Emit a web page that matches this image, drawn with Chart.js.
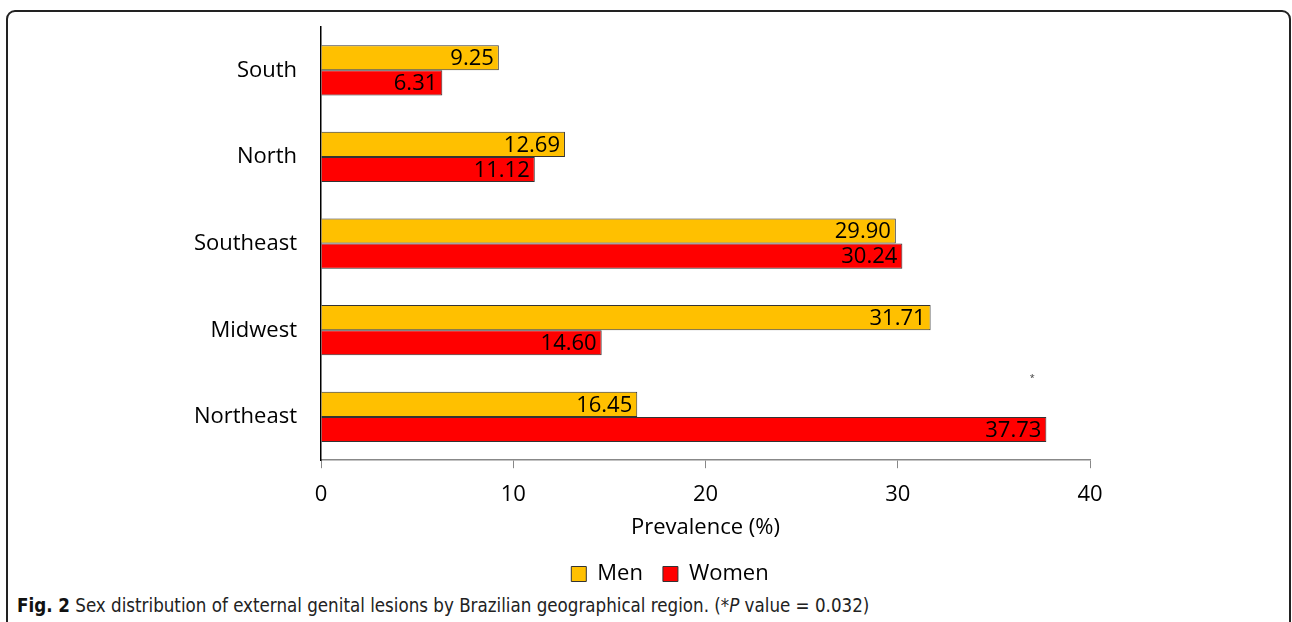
<!DOCTYPE html>
<html>
<head>
<meta charset="utf-8">
<script src="https://cdn.jsdelivr.net/npm/chart.js@4"></script>
<style>
  body { margin: 0; background: #fff; width: 1292px; height: 622px; overflow: hidden; position: relative; }
  #frame { position: absolute; left: 6px; top: 10px; width: 1281px; height: 640px; border: 2px solid #222; border-radius: 9px; }
  #wrap { position: absolute; left: 0; top: 0; width: 1292px; height: 595px; }
  #caption { position: absolute; left: 17px; top: 595px; font-family: "Liberation Sans Narrow", "DejaVu Sans Condensed", sans-serif; font-size: 18.6px; color: #222; white-space: nowrap; }
  #caption b { color: #111; }
</style>
</head>
<body>
<div id="frame"></div>
<div id="wrap"><canvas id="chart"></canvas></div>
<div id="caption"><b>Fig. 2</b> Sex distribution of external genital lesions by Brazilian geographical region. (*<i>P</i> value = 0.032)</div>
<script>
const regions = ['South', 'North', 'Southeast', 'Midwest', 'Northeast'];
const men = [9.25, 12.69, 29.90, 31.71, 16.45];
const women = [6.31, 11.12, 30.24, 14.60, 37.73];
const xTicks = [0, 10, 20, 30, 40];
const starX = 37;          // significance mark, above Northeast
const starRegion = 'Northeast';

const font = '"Open Sans", sans-serif';

// numbers written inside the right end of each bar
const barLabels = {
  id: 'barLabels',
  afterDatasetsDraw(chart) {
    const ctx = chart.ctx;
    ctx.save();
    ctx.font = '22px ' + font;
    ctx.fillStyle = '#000';
    ctx.textAlign = 'right';
    ctx.textBaseline = 'middle';
    chart.data.datasets.forEach((ds, i) => {
      chart.getDatasetMeta(i).data.forEach((bar, j) => {
        ctx.fillText(ds.data[j].toFixed(2), bar.x - 5, bar.y + 1);
      });
    });
    // small asterisk
    const x = chart.scales.x.getPixelForValue(starX);
    const y = chart.scales.y.getPixelForValue(regions.indexOf(starRegion)) - 40;
    ctx.font = '9px ' + font;
    ctx.textAlign = 'center';
    ctx.fillStyle = '#333';
    ctx.fillText('*', x, y + 2);
    ctx.restore();
  }
};

new Chart(document.getElementById('chart'), {
  type: 'bar',
  data: {
    labels: regions,
    datasets: [
      { label: 'Men', data: men, backgroundColor: '#FFC000', borderColor: '#333', borderWidth: 1 },
      { label: 'Women', data: women, backgroundColor: '#FF0000', borderColor: '#333', borderWidth: 1 }
    ]
  },
  options: {
    indexAxis: 'y',
    responsive: true,
    maintainAspectRatio: false,
    animation: false,
    categoryPercentage: 0.58,
    barPercentage: 1,
    layout: { padding: { left: 48, right: 0, top: 27, bottom: 0 } },
    scales: {
      x: {
        min: 0,
        max: 40,
        afterBuildTicks: s => { s.ticks = xTicks.map(v => ({ value: v })); },
        grid: { drawOnChartArea: false, drawTicks: true, tickLength: 8, color: '#888' },
        border: { color: '#888', width: 1.5 },
        ticks: { color: '#000', font: { family: font, size: 22 }, padding: 13 },
        title: { display: true, text: 'Prevalence (%)', color: '#000', font: { family: font, size: 22 }, padding: { top: -6, bottom: 2 } }
      },
      y: {
        grid: { display: true, drawOnChartArea: false, drawTicks: false },
        border: { color: '#000', width: 1.5 },
        ticks: { color: '#000', font: { family: font, size: 22 }, padding: 24 },
        afterFit: s => { s.width = 273; s.paddingTop = 0; s.paddingBottom = 0; }
      },
      y2: {
        position: 'right',
        display: true,
        grid: { display: false, drawTicks: false },
        border: { display: false },
        ticks: { display: false },
        afterFit: s => { s.width = 202; s.paddingTop = 0; s.paddingBottom = 0; }
      }
    },
    plugins: {
      legend: {
        position: 'bottom',
        labels: {
          color: '#000',
          font: { family: font, size: 22 },
          boxWidth: 15,
          boxHeight: 15,
          padding: 20
        }
      },
      tooltip: { enabled: false }
    }
  },
  plugins: [barLabels]
});
</script>
</body>
</html>
